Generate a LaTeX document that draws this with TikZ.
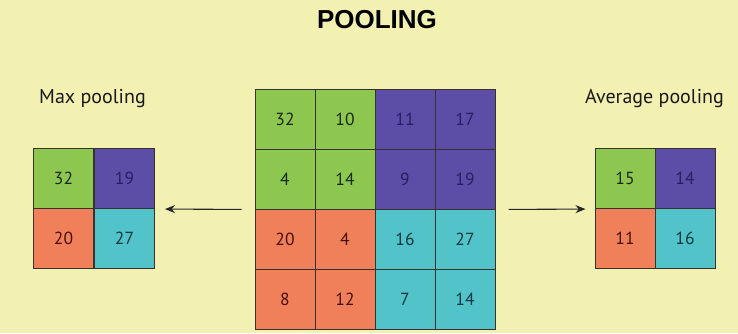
\documentclass[tikz,border=0pt]{standalone}
\usepackage{fontspec}
\setmainfont{PT Sans}
\newfontfamily\titlefont{Liberation Sans}
\usetikzlibrary{arrows.meta}
\definecolor{bgc}{RGB}{243,241,178}
\definecolor{cgreen}{RGB}{141,199,80}
\definecolor{cpurple}{RGB}{92,77,166}
\definecolor{corange}{RGB}{240,128,90}
\definecolor{ccyan}{RGB}{82,196,201}
\definecolor{tgreen}{RGB}{25,40,20}
\definecolor{tpurple}{RGB}{40,30,100}
\definecolor{torange}{RGB}{70,15,8}
\definecolor{tcyan}{RGB}{12,55,65}
\definecolor{edgec}{RGB}{55,50,45}
\tikzset{
  cell/.style={draw=edgec, line width=1pt, minimum width=60pt, minimum height=60pt, inner sep=0pt, font=\fontsize{17.5}{17.5}\selectfont},
  gcell/.style={cell, fill=cgreen, text=tgreen},
  pcell/.style={cell, fill=cpurple, text=tpurple},
  ocell/.style={cell, fill=corange, text=torange},
  ccell/.style={cell, fill=ccyan, text=tcyan},
  label/.style={font=\fontsize{20}{20}\selectfont, text=black!90, anchor=base, inner sep=0pt},
  arr/.style={-{Stealth[length=10pt,width=8pt]}, line width=1.1pt, draw=black!85},
}
\begin{document}
\begin{tikzpicture}[x=1pt,y=1pt]
\fill[bgc] (0,0) rectangle (738,-333);
\useasboundingbox (0,0) rectangle (738,-333);
\node[font=\titlefont\bfseries\fontsize{26}{26}\selectfont, inner sep=0pt] (title) at (377,-20) {POOLING};
\node[label] (maxl) at (92.5,-103) {Max pooling};
\node[label] (avgl) at (654.5,-103) {Average pooling};
% big grid
\node[gcell] (c11) at (285,-119) {32};
\node[gcell] (c12) at (345,-119) {10};
\node[pcell] (c13) at (405,-119) {11};
\node[pcell] (c14) at (465,-119) {17};
\node[gcell] (c21) at (285,-179) {4};
\node[gcell] (c22) at (345,-179) {14};
\node[pcell] (c23) at (405,-179) {9};
\node[pcell] (c24) at (465,-179) {19};
\node[ocell] (c31) at (285,-239) {20};
\node[ocell] (c32) at (345,-239) {4};
\node[ccell] (c33) at (405,-239) {16};
\node[ccell] (c34) at (465,-239) {27};
\node[ocell] (c41) at (285,-299) {8};
\node[ocell] (c42) at (345,-299) {12};
\node[ccell] (c43) at (405,-299) {7};
\node[ccell] (c44) at (465,-299) {14};
% max pooling grid
\node[gcell] (m11) at (63.5,-178.5) {32};
\node[pcell] (m12) at (124.5,-178.5) {19};
\node[ocell] (m21) at (63.5,-238.5) {20};
\node[ccell] (m22) at (124.5,-238.5) {27};
% average pooling grid
\node[gcell] (a11) at (625,-178.5) {15};
\node[pcell] (a12) at (685,-178.5) {14};
\node[ocell] (a21) at (625,-238.5) {11};
\node[ccell] (a22) at (685,-238.5) {16};
% arrows
\draw[arr, shorten <=13pt, shorten >=10pt] (c21.south west) -- (m12.south east);
\draw[arr, shorten <=13pt, shorten >=9pt] (c24.south east) -- (a11.south west);
\end{tikzpicture}
\end{document}
